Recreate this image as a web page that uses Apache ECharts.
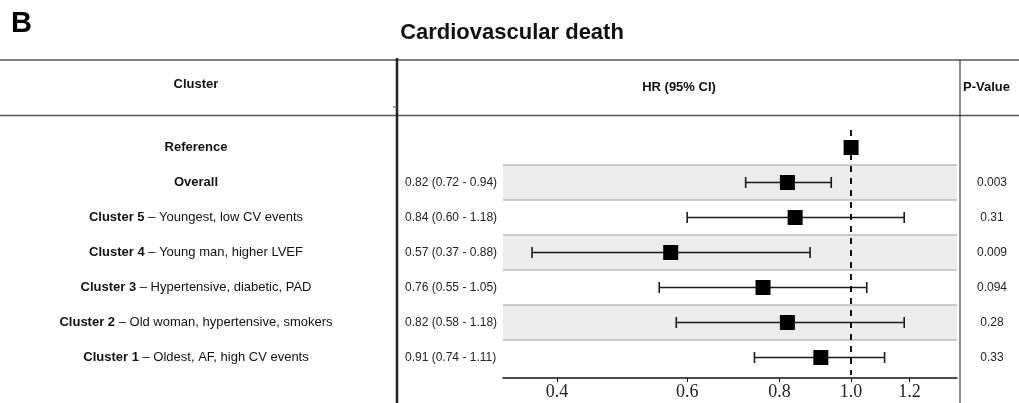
<!DOCTYPE html>
<html>
<head>
<meta charset="utf-8">
<script src="https://cdn.jsdelivr.net/npm/echarts@6/dist/echarts.min.js"></script>
<style>
html,body{margin:0;padding:0;background:#fff;}
#chart{width:1019px;height:403px;}
</style>
</head>
<body>
<div id="chart"></div>
<script>
// ---- data ----
const categories = ['Reference', 'Overall', 'Cluster 5', 'Cluster 4', 'Cluster 3', 'Cluster 2', 'Cluster 1'];
const descriptions = ['', '', 'Youngest, low CV events', 'Young man, higher LVEF', 'Hypertensive, diabetic, PAD', 'Old woman, hypertensive, smokers', 'Oldest, AF, high CV events'];
const hrValues = [1.00, 0.82, 0.84, 0.57, 0.76, 0.82, 0.91];
const ciLower = [null, 0.72, 0.60, 0.37, 0.55, 0.58, 0.74];
const ciUpper = [null, 0.94, 1.18, 0.88, 1.05, 1.18, 1.11];
const pValues = ['', '0.003', '0.31', '0.009', '0.094', '0.28', '0.33'];
const shadedRows = ['Overall', 'Cluster 4', 'Cluster 2'];
const xTicks = [0.4, 0.6, 0.8, 1.0, 1.2];
const referenceLine = 1.0;

// ---- derived text ----
const hrText = hrValues.map((v, i) => ciLower[i] == null ? '' :
  v.toFixed(2) + ' (' + ciLower[i].toFixed(2) + ' - ' + ciUpper[i].toFixed(2) + ')');

const FONT = 'Liberation Sans, Arial, sans-serif';
const chart = echarts.init(document.getElementById('chart'), null, {renderer: 'canvas'});

const catAxisBase = {
  type: 'category', data: categories, inverse: true,
  axisLine: {show: false}, axisTick: {show: false}, splitLine: {show: false}
};

const option = {
  animation: false,
  backgroundColor: '#fff',
  grid: {left: 503, right: 62, top: 130, height: 245, containLabel: false},
  xAxis: {
    type: 'log', logBase: 10, min: 0.338, max: 1.391, offset: 3,
    axisLine: {show: true, lineStyle: {color: '#111', width: 1.5}},
    axisTick: {show: true, length: 4, customValues: xTicks, lineStyle: {color: '#111', width: 1}},
    axisLabel: {customValues: xTicks, formatter: v => Number(v).toFixed(1),
      fontFamily: 'Liberation Serif, Times New Roman, serif', fontSize: 18, color: '#222', margin: 5},
    splitLine: {show: false}, minorTick: {show: false}
  },
  yAxis: [
    Object.assign({}, catAxisBase, {
      position: 'left',
      axisLabel: {
        align: 'center', margin: 307, fontFamily: FONT, fontSize: 13, color: '#111',
        formatter: (v) => {
          const d = descriptions[categories.indexOf(v)];
          return d ? '{b|' + v + '} – ' + d : '{b|' + v + '}';
        },
        rich: {b: {fontWeight: 'bold', fontFamily: FONT, fontSize: 13, color: '#111'}}
      }
    }),
    Object.assign({}, catAxisBase, {
      position: 'left',
      axisLabel: {align: 'left', margin: 98, fontFamily: FONT, fontSize: 12, color: '#222',
        formatter: v => hrText[categories.indexOf(v)]}
    }),
    Object.assign({}, catAxisBase, {
      position: 'right',
      axisLabel: {align: 'center', margin: 35, fontFamily: FONT, fontSize: 12, color: '#222',
        formatter: v => pValues[categories.indexOf(v)]}
    })
  ],
  series: [
    {
      type: 'custom', name: 'bands', z: 1, silent: true,
      data: shadedRows.map(r => [categories.indexOf(r)]),
      encode: {y: 0},
      renderItem: (params, api) => {
        const cs = params.coordSys;
        const c = api.coord([referenceLine, api.value(0)]);
        const h = api.size([0, 1])[1];
        const y0 = c[1] - h / 2, y1 = c[1] + h / 2;
        return {type: 'group', children: [
          {type: 'rect', shape: {x: cs.x, y: y0, width: cs.width, height: h}, style: {fill: '#ececec'}},
          {type: 'line', shape: {x1: cs.x, y1: y0, x2: cs.x + cs.width, y2: y0}, style: {stroke: '#bcbcbc', lineWidth: 1.5}},
          {type: 'line', shape: {x1: cs.x, y1: y1, x2: cs.x + cs.width, y2: y1}, style: {stroke: '#bcbcbc', lineWidth: 1.5}}
        ]};
      },
      markLine: {
        silent: true, symbol: 'none',
        label: {show: false},
        lineStyle: {color: '#111', width: 2, type: [6, 6]},
        data: [{xAxis: referenceLine}]
      }
    },
    {
      type: 'custom', name: 'ci', z: 3, silent: true,
      data: categories.map((c, i) => [ciLower[i], ciUpper[i], i]).filter(d => d[0] != null),
      encode: {x: [0, 1], y: 2},
      renderItem: (params, api) => {
        const a = api.coord([api.value(0), api.value(2)]);
        const b = api.coord([api.value(1), api.value(2)]);
        const cap = 5.5;
        const st = {stroke: '#1a1a1a', lineWidth: 1.6};
        return {type: 'group', children: [
          {type: 'line', shape: {x1: a[0], y1: a[1], x2: b[0], y2: b[1]}, style: st},
          {type: 'line', shape: {x1: a[0], y1: a[1] - cap, x2: a[0], y2: a[1] + cap}, style: st},
          {type: 'line', shape: {x1: b[0], y1: b[1] - cap, x2: b[0], y2: b[1] + cap}, style: st}
        ]};
      }
    },
    {
      type: 'scatter', name: 'HR', z: 5, symbol: 'rect', symbolSize: 15,
      itemStyle: {color: '#000', opacity: 1},
      data: hrValues.map((v, i) => [v, categories[i]])
    }
  ],
  graphic: [
    {type: 'text', left: 11, top: 9, style: {text: 'B', font: 'bold 29px ' + FONT, fill: '#000'}},
    {type: 'text', x: 512, y: 33, style: {text: 'Cardiovascular death', font: 'bold 22px ' + FONT, fill: '#111', textAlign: 'center', textVerticalAlign: 'middle'}},
    {type: 'line', shape: {x1: 0, y1: 60, x2: 1019, y2: 60}, style: {stroke: '#555', lineWidth: 1.5}},
    {type: 'line', shape: {x1: 0, y1: 115.5, x2: 1019, y2: 115.5}, style: {stroke: '#555', lineWidth: 1.5}},
    {type: 'line', shape: {x1: 397, y1: 58, x2: 397, y2: 403}, style: {stroke: '#222', lineWidth: 2.5}},
    {type: 'line', shape: {x1: 393, y1: 107, x2: 397, y2: 107}, style: {stroke: '#444', lineWidth: 1}},
    {type: 'line', shape: {x1: 960, y1: 60, x2: 960, y2: 403}, style: {stroke: '#444', lineWidth: 1.2}},
    {type: 'text', x: 196, y: 84, style: {text: 'Cluster', font: 'bold 13px ' + FONT, fill: '#111', textAlign: 'center', textVerticalAlign: 'middle'}},
    {type: 'text', x: 679, y: 87, style: {text: 'HR (95% CI)', font: 'bold 13px ' + FONT, fill: '#111', textAlign: 'center', textVerticalAlign: 'middle'}},
    {type: 'text', x: 963, y: 87, style: {text: 'P-Value', font: 'bold 13px ' + FONT, fill: '#111', textAlign: 'left', textVerticalAlign: 'middle'}}
  ]
};
chart.setOption(option);
</script>
</body>
</html>
